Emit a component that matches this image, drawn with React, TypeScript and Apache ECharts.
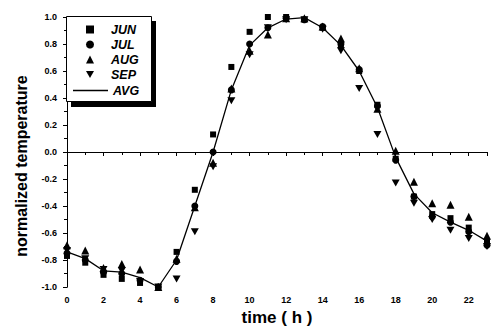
import React, { useEffect, useRef } from "react";
import * as echarts from "echarts";

const hours = [0, 1, 2, 3, 4, 5, 6, 7, 8, 9, 10, 11, 12, 13, 14, 15, 16, 17, 18, 19, 20, 21, 22, 23];
const jun = [-0.77, -0.82, -0.91, -0.94, -0.97, -1.0, -0.74, -0.28, 0.13, 0.63, 0.89, 1.0, 1.0, 0.98, 0.92, 0.79, 0.6, 0.35, -0.05, -0.33, -0.46, -0.49, -0.56, -0.66];
const jul = [-0.75, -0.8, -0.89, -0.9, -0.95, -1.0, -0.81, -0.4, 0.0, 0.46, 0.8, 0.92, 0.99, 0.98, 0.93, 0.8, 0.61, 0.34, -0.06, -0.33, -0.48, -0.52, -0.59, -0.69];
const aug = [-0.69, -0.73, -0.86, -0.83, -0.87, -1.0, -0.79, -0.41, -0.08, 0.47, 0.75, 0.87, 0.99, 0.99, 0.93, 0.84, 0.62, 0.32, 0.01, -0.22, -0.38, -0.39, -0.48, -0.62];
const sep = [-0.73, -0.79, -0.87, -0.88, -0.96, -1.0, -0.94, -0.59, -0.11, 0.38, 0.72, 0.92, 0.98, 0.98, 0.91, 0.75, 0.47, 0.13, -0.23, -0.38, -0.5, -0.58, -0.64, -0.7];
const avg = [-0.74, -0.79, -0.88, -0.89, -0.93, -1.0, -0.8, -0.4, 0.0, 0.46, 0.79, 0.92, 0.985, 0.995, 0.92, 0.79, 0.6, 0.33, -0.04, -0.31, -0.45, -0.52, -0.58, -0.66];
const monthNames = ["JUN", "JUL", "AUG", "SEP"];
const avgName = "AVG";
const xTitle = "time ( h )";
const yTitle = "normalized temperature";

const FONT = '"Liberation Sans", Arial, sans-serif';

const pts = (vals: number[]) => hours.map((h, i) => [h, vals[i]]);

export default function App() {
  const ref = useRef<HTMLDivElement>(null);
  useEffect(() => {
    const chart = echarts.init(ref.current!, null, { renderer: "svg" });
    const axisCommon = {
      axisLine: { show: true, lineStyle: { color: "#000", width: 1 } },
      splitLine: { show: false },
    };
    const legendText = {
      fontFamily: FONT,
      fontSize: 12.5,
      fontWeight: "bold",
      fontStyle: "italic",
      color: "#000",
      lineHeight: 13,
    };
    chart.setOption({
      animation: false,
      backgroundColor: "#fff",
      grid: { left: 67, top: 17, right: 7, bottom: 47 },
      xAxis: [
        {
          type: "value",
          min: 0,
          max: 23,
          interval: 2,
          name: xTitle,
          nameLocation: "middle",
          nameGap: 22,
          nameTextStyle: { fontFamily: FONT, fontWeight: "bold", fontSize: 17, color: "#000" },
          ...axisCommon,
          axisTick: { show: true, inside: false, length: 4, lineStyle: { color: "#000" } },
          minorTick: { show: true, splitNumber: 2, length: 3, lineStyle: { color: "#000" } },
          axisLabel: { showMaxLabel: false, margin: 8, fontFamily: FONT, fontSize: 9, fontWeight: "bold", color: "#000" },
        },
        {
          type: "value",
          position: "top",
          min: 0,
          max: 23,
          interval: 2,
          ...axisCommon,
          axisTick: { show: true, inside: true, length: 4, lineStyle: { color: "#000" } },
          minorTick: { show: true, splitNumber: 2, length: 3, lineStyle: { color: "#000" } },
          axisLabel: { show: false },
        },
      ],
      yAxis: [
        {
          type: "value",
          min: -1,
          max: 1,
          interval: 0.2,
          ...axisCommon,
          axisTick: { show: true, inside: false, length: 4, lineStyle: { color: "#000" } },
          minorTick: { show: true, splitNumber: 2, length: 3, lineStyle: { color: "#000" } },
          axisLabel: {
            margin: 10,
            fontFamily: FONT,
            fontSize: 9,
            fontWeight: "bold",
            color: "#000",
            formatter: (v: number) => v.toFixed(1),
          },
        },
        {
          type: "value",
          position: "right",
          min: -1,
          max: 1,
          interval: 0.2,
          ...axisCommon,
          axisTick: { show: true, inside: true, length: 4, lineStyle: { color: "#000" } },
          minorTick: { show: true, splitNumber: 2, length: 3, lineStyle: { color: "#000" } },
          axisLabel: { show: false },
        },
      ],
      legend: [
        {
          orient: "vertical",
          left: 86,
          top: 23,
          padding: 0,
          itemWidth: 8,
          itemHeight: 8,
          itemGap: 2,
          z: 10,
          data: monthNames,
          textStyle: { ...legendText, padding: [0, 0, 0, 12] },
        },
        {
          orient: "vertical",
          left: 73,
          top: 84,
          padding: 0,
          itemWidth: 35,
          itemHeight: 1.5,
          z: 10,
          data: [{ name: avgName, icon: "rect" }],
          textStyle: { ...legendText, padding: [0, 0, 0, 0] },
        },
      ],
      graphic: [
        { type: "rect", z: 3, shape: { x: 71, y: 21, width: 85, height: 86 }, style: { fill: "#000" } },
        { type: "rect", z: 4, shape: { x: 66.5, y: 16.5, width: 85, height: 85 }, style: { fill: "#fff", stroke: "#000", lineWidth: 1 } },
        {
          type: "text",
          z: 5,
          x: 21,
          y: 166,
          rotation: Math.PI / 2,
          style: {
            text: yTitle,
            fontFamily: FONT,
            fontSize: 16,
            fontWeight: "bold",
            fill: "#000",
            textAlign: "center",
            textVerticalAlign: "middle",
          },
        },
      ],
      series: [
        { name: "JUN", type: "scatter", symbol: "rect", symbolSize: 6, itemStyle: { color: "#000", opacity: 1 }, data: pts(jun) },
        { name: "JUL", type: "scatter", symbol: "circle", symbolSize: 7, itemStyle: { color: "#000", opacity: 1 }, data: pts(jul) },
        { name: "AUG", type: "scatter", symbol: "triangle", symbolSize: 8, itemStyle: { color: "#000", opacity: 1 }, data: pts(aug) },
        { name: "SEP", type: "scatter", symbol: "path://M0,0L10,0L5,9Z", symbolSize: [8, 7], itemStyle: { color: "#000", opacity: 1 }, data: pts(sep) },
        {
          name: avgName,
          type: "line",
          symbol: "none",
          lineStyle: { color: "#000", width: 1.3 },
          itemStyle: { color: "#000" },
          data: pts(avg),
          z: 1,
        },
      ],
    });
    return () => chart.dispose();
  }, []);
  return (
    <div
      ref={ref}
      style={{ position: "fixed", left: 0, top: 0, width: 494, height: 334, background: "#fff" }}
    />
  );
}
